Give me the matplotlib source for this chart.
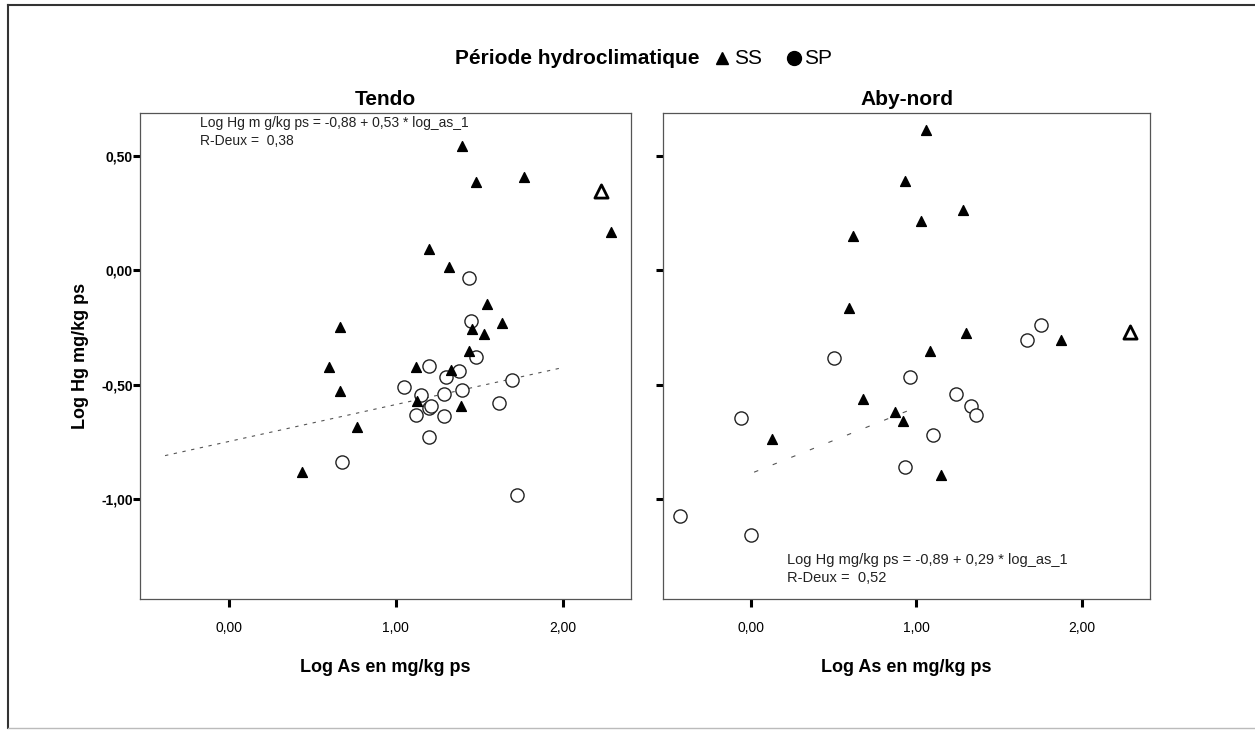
import matplotlib
matplotlib.use("Agg")
import matplotlib.pyplot as plt
from matplotlib.lines import Line2D
import numpy as np

plt.rcParams['font.family'] = ['Liberation Sans', 'DejaVu Sans']

# ---------------- data ----------------
panels = ["Tendo", "Aby-nord"]

tendo_ss_x = [1.40, 1.48, 1.77, 2.29, 1.20, 1.32, 1.55, 1.64, 0.67, 1.46,
              1.53, 1.44, 0.60, 1.12, 1.33, 0.67, 0.77, 1.13, 1.39, 0.44]
tendo_ss_y = [0.547, 0.389, 0.411, 0.169, 0.092, 0.016, -0.147, -0.230, -0.249, -0.257,
              -0.279, -0.355, -0.425, -0.425, -0.437, -0.530, -0.686, -0.572, -0.594, -0.884]
tendo_open_x = [2.23]
tendo_open_y = [0.349]
tendo_sp_x = [1.44, 1.45, 1.48, 1.20, 1.38, 1.30, 1.05, 1.70, 1.15, 1.29,
              1.40, 1.20, 1.21, 1.12, 1.29, 1.62, 1.20, 0.68, 1.73]
tendo_sp_y = [-0.032, -0.220, -0.380, -0.420, -0.442, -0.466, -0.511, -0.480, -0.548, -0.540,
              -0.525, -0.601, -0.595, -0.633, -0.638, -0.580, -0.732, -0.838, -0.986]

aby_ss_x = [1.06, 0.93, 1.28, 1.03, 0.62, 0.59, 1.30, 1.08, 1.87, 0.68,
            0.87, 0.92, 0.13, 1.15]
aby_ss_y = [0.615, 0.394, 0.265, 0.218, 0.151, -0.165, -0.275, -0.351, -0.304, -0.562,
            -0.621, -0.661, -0.738, -0.895]
aby_open_x = [2.29]
aby_open_y = [-0.268]
aby_sp_x = [1.75, 1.67, 0.50, 0.96, 1.24, 1.33, 1.36, -0.06, 1.10, 0.93, -0.43, 0.00]
aby_sp_y = [-0.241, -0.307, -0.385, -0.468, -0.542, -0.595, -0.632, -0.646, -0.722, -0.861,
            -1.075, -1.158]

# fitted lines as drawn: (intercept, slope, x_start, x_end)
tendo_fit = (-0.75, 0.162, -0.38, 2.00)
aby_fit = (-0.89, 0.29, 0.02, 1.00)

tendo_eq = ["Log Hg m g/kg ps = -0,88 + 0,53 * log_as_1", "R-Deux =  0,38"]
aby_eq = ["Log Hg mg/kg ps = -0,89 + 0,29 * log_as_1", "R-Deux =  0,52"]

x_ticks = [0.0, 1.0, 2.0]
x_ticklabels = ["0,00", "1,00", "2,00"]
y_ticks = [0.5, 0.0, -0.5, -1.0]
y_ticklabels = ["0,50", "0,00", "-0,50", "-1,00"]

legend_title = "Période hydroclimatique"
legend_labels = ["SS", "SP"]
x_label = "Log As en mg/kg ps"
y_label = "Log Hg mg/kg ps"

# ---------------- figure ----------------
W, H = 1255, 730
fig = plt.figure(figsize=(W / 100, H / 100), dpi=100)
fig.patch.set_facecolor("white")

def fx(px):
    return px / W

def fy(py):
    return 1 - py / H

ax1 = fig.add_axes([fx(140), fy(599), fx(631) - fx(140), fy(113) - fy(599)])
ax2 = fig.add_axes([fx(663), fy(599), fx(1150) - fx(663), fy(113) - fy(599)])

datasets = [
    (ax1, tendo_ss_x, tendo_ss_y, tendo_open_x, tendo_open_y, tendo_sp_x, tendo_sp_y, tendo_fit, tendo_eq),
    (ax2, aby_ss_x, aby_ss_y, aby_open_x, aby_open_y, aby_sp_x, aby_sp_y, aby_fit, aby_eq),
]

for i, (ax, ssx, ssy, ox, oy, spx, spy, fit, eq) in enumerate(datasets):
    ax.set_xlim(-0.53, 2.41)
    ax.set_ylim(-1.44, 0.69)
    b0, b1, xs, xe = fit
    xx = np.array([xs, xe])
    if i == 0:
        ax.plot(xx, b0 + b1 * xx, color="#555555", lw=0.8, dashes=(3, 5), zorder=1)
    else:
        ax.plot(xx, b0 + b1 * xx, color="#555555", lw=0.8, dashes=(4, 14), zorder=1)
    ax.scatter(spx, spy, marker="o", s=90, facecolors="white", edgecolors="#222222",
               linewidths=1.0, zorder=2)
    ax.scatter(ssx, ssy, marker="^", s=50, color="black", zorder=3)
    ax.scatter(ox, oy, marker="^", s=90, facecolors="white", edgecolors="black",
               linewidths=2.0, zorder=3)
    ax.set_xticks(x_ticks)
    ax.set_yticks(y_ticks)
    ax.set_xticklabels(x_ticklabels, fontsize=10)
    if i == 0:
        ax.set_yticklabels(y_ticklabels, fontsize=10, fontweight="bold")
        ax.set_ylabel(y_label, fontsize=13, fontweight="bold", labelpad=9)
    else:
        ax.set_yticklabels([])
    ax.tick_params(axis="y", direction="out", length=5, width=2.2, pad=0, color="black")
    ax.tick_params(axis="x", direction="out", length=6, width=2.2, pad=10, color="black")
    ax.set_xlabel(x_label, fontsize=13, fontweight="bold", labelpad=17)
    ax.set_title(panels[i], fontsize=15, fontweight="bold", pad=6)
    for sp in ax.spines.values():
        sp.set_color("#555555")
        sp.set_linewidth(0.9)
    if i == 0:
        ax.text(0.122, 0.979, eq[0], transform=ax.transAxes, fontsize=10,
                ha="left", va="center", color="#222222")
        ax.text(0.122, 0.942, eq[1], transform=ax.transAxes, fontsize=10,
                ha="left", va="center", color="#222222")
    else:
        ax.text(0.255, 0.080, eq[0], transform=ax.transAxes, fontsize=10.5,
                ha="left", va="center", color="#222222")
        ax.text(0.255, 0.043, eq[1], transform=ax.transAxes, fontsize=10.5,
                ha="left", va="center", color="#222222")

# legend row at top
fig.text(fx(700), fy(58), legend_title, fontsize=15, fontweight="bold",
         ha="right", va="center")
fig.add_artist(Line2D([fx(722)], [fy(58)], marker="^", markersize=9, color="black",
                      transform=fig.transFigure, linestyle="none"))
fig.text(fx(734), fy(58), legend_labels[0], fontsize=15, ha="left", va="center")
fig.add_artist(Line2D([fx(794)], [fy(58)], marker="o", markersize=10, color="black",
                      transform=fig.transFigure, linestyle="none"))
fig.text(fx(804), fy(58), legend_labels[1], fontsize=15, ha="left", va="center")

# outer frame
fig.add_artist(Line2D([fx(8), fx(8)], [fy(5), fy(728)], color="#333333", lw=1.5,
                      transform=fig.transFigure))
fig.add_artist(Line2D([fx(8), fx(1255)], [fy(5), fy(5)], color="#333333", lw=1.5,
                      transform=fig.transFigure))
fig.add_artist(Line2D([fx(8), fx(1255)], [fy(728), fy(728)], color="#bbbbbb", lw=1.0,
                      transform=fig.transFigure))

fig.savefig("out.png", dpi=100)
